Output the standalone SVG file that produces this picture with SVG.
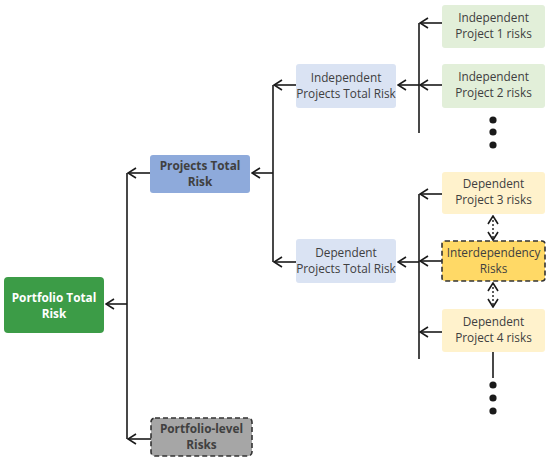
<svg xmlns="http://www.w3.org/2000/svg" width="550" height="461" viewBox="0 0 550 461">
<style>
  text { font-family: "Open Sans", "Liberation Sans", sans-serif; font-size: 11.8px; fill: #404040; text-anchor: middle; }
  .b { font-weight: bold; }
  .w { fill: #ffffff; }
  .ln { stroke: #1a1a1a; stroke-width: 1.6; fill: none; }
  .arr { stroke: #1a1a1a; stroke-width: 1.6; fill: none; marker-end: url(#ah); }
  .dot { stroke: #1a1a1a; stroke-width: 1.4; stroke-dasharray: 2 2; fill: none; marker-start: url(#ah); marker-end: url(#ah); }
</style>
<defs>
  <marker id="ah" viewBox="0 0 10 12" refX="9" refY="6" markerWidth="10" markerHeight="12" markerUnits="userSpaceOnUse" orient="auto-start-reverse">
    <path d="M1,1 L9,6 L1,11" fill="none" stroke="#1a1a1a" stroke-width="1.6"/>
  </marker>
</defs>
<rect width="550" height="461" fill="#ffffff"/>
<g id="connectors">
  <line class="ln" x1="127" y1="173" x2="127" y2="439"/>
  <line class="arr" x1="150" y1="173" x2="128" y2="173"/>
  <line class="arr" x1="151" y1="439" x2="128" y2="439"/>
  <line class="arr" x1="127" y1="304" x2="106" y2="304"/>
  <line class="ln" x1="273" y1="85" x2="273" y2="262"/>
  <line class="arr" x1="296" y1="85" x2="274" y2="85"/>
  <line class="arr" x1="296" y1="262" x2="274" y2="262"/>
  <line class="arr" x1="273" y1="173" x2="252" y2="173"/>
  <line class="ln" x1="419" y1="23" x2="419" y2="133"/>
  <line class="arr" x1="442" y1="23" x2="420" y2="23"/>
  <line class="arr" x1="442" y1="85" x2="420" y2="85"/>
  <line class="arr" x1="419" y1="85" x2="398" y2="85"/>
  <line class="ln" x1="419" y1="194" x2="419" y2="359"/>
  <line class="arr" x1="442" y1="194" x2="420" y2="194"/>
  <line class="arr" x1="442" y1="261" x2="420" y2="261"/>
  <line class="arr" x1="442" y1="332" x2="420" y2="332"/>
  <line class="arr" x1="419" y1="262" x2="398" y2="262"/>
  <line class="dot" x1="493" y1="216" x2="493" y2="240"/>
  <line class="dot" x1="493" y1="283" x2="493" y2="307"/>
  <line class="ln" x1="493" y1="352" x2="493" y2="378"/>
  <g fill="#1a1a1a">
    <circle cx="493" cy="120" r="3.6"/>
    <circle cx="493" cy="132" r="3.6"/>
    <circle cx="493" cy="145" r="3.6"/>
    <circle cx="493" cy="385" r="3.6"/>
    <circle cx="493" cy="398" r="3.6"/>
    <circle cx="493" cy="411" r="3.6"/>
  </g>
</g>
<g id="portfolio-total">
  <rect x="4" y="277" width="100" height="56" rx="4" fill="#3c9c47"/>
  <text class="b w" x="54" y="302">Portfolio Total</text>
  <text class="b w" x="54" y="318">Risk</text>
</g>
<g id="projects-total">
  <rect x="150" y="155" width="100" height="38" rx="3" fill="#8eaadb"/>
  <text class="b" x="200" y="170">Projects Total</text>
  <text class="b" x="200" y="186">Risk</text>
</g>
<g id="portfolio-level">
  <rect x="151" y="418" width="101" height="38" rx="4" fill="#a6a6a6" stroke="#333333" stroke-width="1.6" stroke-dasharray="5 3"/>
  <text class="b" x="201.5" y="433">Portfolio-level</text>
  <text class="b" x="201.5" y="449">Risks</text>
</g>
<g id="independent-total">
  <rect x="296" y="64" width="100" height="44" rx="3" fill="#dae3f3"/>
  <text x="346" y="82">Independent</text>
  <text x="346" y="98">Projects Total Risk</text>
</g>
<g id="dependent-total">
  <rect x="296" y="239" width="100" height="44" rx="3" fill="#dae3f3"/>
  <text x="346" y="257">Dependent</text>
  <text x="346" y="273">Projects Total Risk</text>
</g>
<g id="ind-project-1">
  <rect x="442" y="5" width="103" height="43" rx="3" fill="#e2efd9"/>
  <text x="493.5" y="22">Independent</text>
  <text x="493.5" y="38">Project 1 risks</text>
</g>
<g id="ind-project-2">
  <rect x="442" y="64" width="103" height="44" rx="3" fill="#e2efd9"/>
  <text x="493.5" y="81">Independent</text>
  <text x="493.5" y="97">Project 2 risks</text>
</g>
<g id="dep-project-3">
  <rect x="442" y="172" width="103" height="42" rx="3" fill="#fff2cc"/>
  <text x="493.5" y="188">Dependent</text>
  <text x="493.5" y="204">Project 3 risks</text>
</g>
<g id="interdependency">
  <rect x="442" y="241" width="103" height="40" rx="3" fill="#ffd966" stroke="#333333" stroke-width="1.6" stroke-dasharray="5 3"/>
  <text x="493.5" y="257">Interdependency</text>
  <text x="493.5" y="273">Risks</text>
</g>
<g id="dep-project-4">
  <rect x="442" y="309" width="103" height="43" rx="3" fill="#fff2cc"/>
  <text x="493.5" y="326">Dependent</text>
  <text x="493.5" y="342">Project 4 risks</text>
</g>
</svg>
